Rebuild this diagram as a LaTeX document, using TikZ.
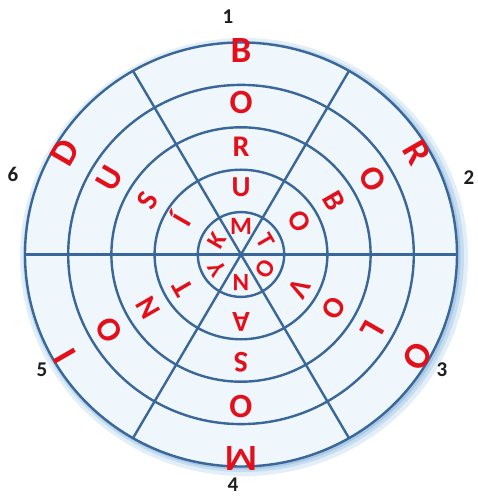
\documentclass[tikz,border=0pt]{standalone}
\usepackage{fontspec}
\setmainfont{Carlito}
\definecolor{ringblue}{HTML}{3A6799}
\definecolor{letred}{HTML}{E3101C}
\definecolor{numblack}{HTML}{1E1E1E}
\definecolor{discfill}{HTML}{F0F7FC}
\definecolor{glowA}{HTML}{E2EEF8}
\definecolor{glowB}{HTML}{C6DCEF}
\definecolor{glowC}{HTML}{A9C9E6}
\begin{document}
\begin{tikzpicture}[x=1pt,y=1pt,
  ringline/.style={draw=ringblue, line width=2.4pt},
  letter/.style={text=letred, font=\bfseries\fontsize{#1}{#1}\selectfont,
    inner sep=0pt, text height=0.63em, text depth=0pt},
  num/.style={text=numblack, font=\bfseries\fontsize{21}{21}\selectfont,
    inner sep=0pt, text height=0.63em, text depth=0pt}]
\useasboundingbox[fill=white] (-241,-246.5) rectangle (237,254.5);
\coordinate (c) at (0,0);
% glow / shadow round the disc
\fill[glowA] (3,-2.5) ellipse [x radius=224, y radius=219];
\fill[glowB] (2.5,-2) ellipse [x radius=220.5, y radius=215.5];
\fill[glowC] (1.5,-1.5) ellipse [x radius=218, y radius=213.5];
\fill[discfill] (c) ellipse [x radius=216, y radius=212];
% rings
\foreach \k in {1,...,5}
  \draw[ringline] (c) ellipse [x radius=43.2*\k, y radius=42.4*\k];
% spokes
\foreach \a in {0,60,120} {
  \coordinate (p\a) at ({216*cos(\a)},{212*sin(\a)});
  \coordinate (q\a) at ({216*cos(\a+180)},{212*sin(\a+180)});
  \draw[ringline] (p\a) -- (q\a);
}
% letters, outer ring to centre, in each sector
\foreach \ang/\a/\b/\cc/\d/\e [count=\i] in
  {90/B/O/R/U/M, 30/R/O/B/O/T, -30/O/L/O/V/O,
   -90/M/O/S/A/N, -150/I/O/N/T/Y, 150/D/U/S/Í/K} {
  \node[letter=37, rotate=\ang-90] (s\i a) at (\ang:195) {\a};
  \node[letter=34, rotate=\ang-90] (s\i b) at (\ang:144) {\b};
  \node[letter=30, rotate=\ang-90] (s\i c) at (\ang:101) {\cc};
  \node[letter=29, rotate=\ang-90] (s\i d) at (\ang:61) {\d};
  \node[letter=25, rotate=\ang-90] (s\i e) at (\ang:23) {\e};
}
% sector numbers
\node[num] (n1) at (-13,234.5) {1};
\node[num] (n2) at (228,73.5) {2};
\node[num] (n3) at (201,-118.5) {3};
\node[num] (n4) at (-8,-233.5) {4};
\node[num] (n5) at (-199,-118.5) {5};
\node[num] (n6) at (-228,76.5) {6};
\end{tikzpicture}
\end{document}
